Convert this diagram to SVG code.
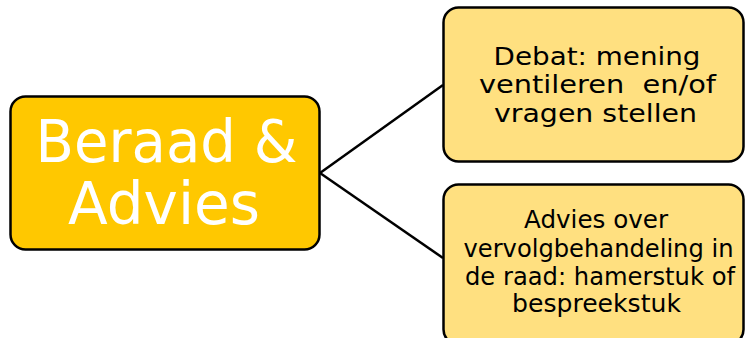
<svg xmlns="http://www.w3.org/2000/svg" width="745" height="338" viewBox="0 0 745 338">
<style>
.box{stroke:#000;stroke-width:2.5}
.main{fill:#FFC800}
.sub{fill:#FFE080}
.t{font-family:"DejaVu Sans",Verdana,sans-serif;text-anchor:middle}
.big{font-size:58px;fill:#fff}
.small{font-size:25.5px;fill:#000}
.tight{font-size:24.5px}
.conn{stroke:#000;stroke-width:2.5;fill:none}
</style>
<rect width="745" height="338" fill="#fff"/>
<g id="connectors">
<line class="conn" x1="320" y1="173" x2="443" y2="85"/>
<line class="conn" x1="320" y1="173" x2="443" y2="258"/>
</g>
<g id="node-beraad">
<rect class="box main" x="10.5" y="96.5" width="309" height="153" rx="15"/>
<text class="t big" x="166.5" y="162" textLength="262" lengthAdjust="spacingAndGlyphs">Beraad &amp;</text>
<text class="t big" x="164" y="224" textLength="192" lengthAdjust="spacingAndGlyphs">Advies</text>
</g>
<g id="node-debat">
<rect class="box sub" x="443.5" y="7.5" width="300" height="154" rx="15"/>
<text class="t small" x="597" y="64.5" textLength="207" lengthAdjust="spacingAndGlyphs">Debat: mening</text>
<text class="t small" x="597.5" y="93" textLength="237" lengthAdjust="spacingAndGlyphs" xml:space="preserve">ventileren  en/of</text>
<text class="t small" x="595.5" y="122" textLength="203" lengthAdjust="spacingAndGlyphs">vragen stellen</text>
</g>
<g id="node-advies">
<rect class="box sub" x="443.5" y="184.5" width="300" height="160" rx="15"/>
<text class="t small" x="596" y="228" textLength="144" lengthAdjust="spacingAndGlyphs">Advies over</text>
<text class="t small tight" x="598.5" y="257" textLength="270" lengthAdjust="spacingAndGlyphs">vervolgbehandeling in</text>
<text class="t small tight" x="600" y="285" textLength="270" lengthAdjust="spacingAndGlyphs">de raad: hamerstuk of</text>
<text class="t small" x="596.5" y="312" textLength="169" lengthAdjust="spacingAndGlyphs">bespreekstuk</text>
</g>
</svg>
